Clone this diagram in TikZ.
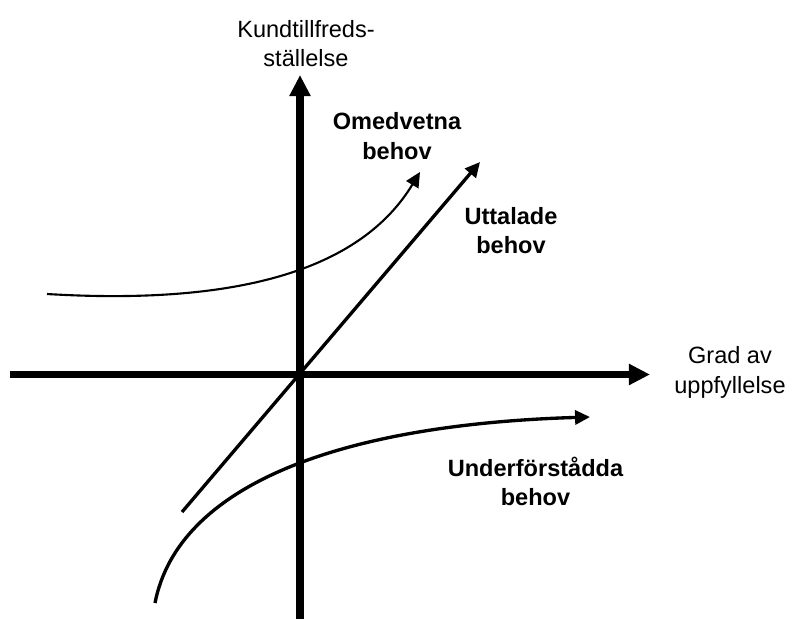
\documentclass[tikz,border=0pt]{standalone}
\usepackage{fontspec}
\setmainfont{Liberation Sans}
\usetikzlibrary{arrows.meta}

\begin{document}
\begin{tikzpicture}[x=0.02cm,y=-0.02cm,
  axis/.style={line width=4pt,-{Triangle[length=12pt,width=11.4pt]}},
  need/.style={line width=1.9pt,-{Triangle[length=8.5pt,width=8pt]}},
  lbl/.style={align=center,inner sep=0pt,font=\fontsize{13.4}{16.8}\selectfont},
  head/.style={lbl,font=\fontsize{13.4}{16.8}\selectfont\bfseries}]
\useasboundingbox (0,0) rectangle (790,619);
% axes
\coordinate (xstart) at (10,374.5);
\coordinate (xend) at (650,374.5);
\coordinate (ystart) at (300,619);
\coordinate (yend) at (300,75);
\draw[axis] (xstart) -- (xend);
\draw[axis] (ystart) -- (yend);
\node[lbl] (ylab) at (306,43.4) {Kundtillfreds-\\ställelse};
\node[lbl] (xlab) at (730,372.5) {Grad av\\uppfyllelse};
% the three kinds of needs
\coordinate (d0) at (182,512);
\coordinate (d1) at (480,162);
\coordinate (o0) at (47,294);
\coordinate (o1) at (420,172);
\coordinate (u0) at (155,603);
\coordinate (u1) at (590,417);
\draw[need] (d0) -- (d1);
\draw[need,line width=1.2pt] (o0) .. controls (247,306) and (363,266) .. (o1);
\draw[need] (u0) .. controls (178,485) and (340,424.5) .. (u1);
\node[head] (omed) at (397,136) {Omedvetna\\behov};
\node[head] (utt) at (511,230.5) {Uttalade\\behov};
\node[head] (under) at (535.5,481.5) {Underförstådda\\behov};
\end{tikzpicture}
\end{document}
